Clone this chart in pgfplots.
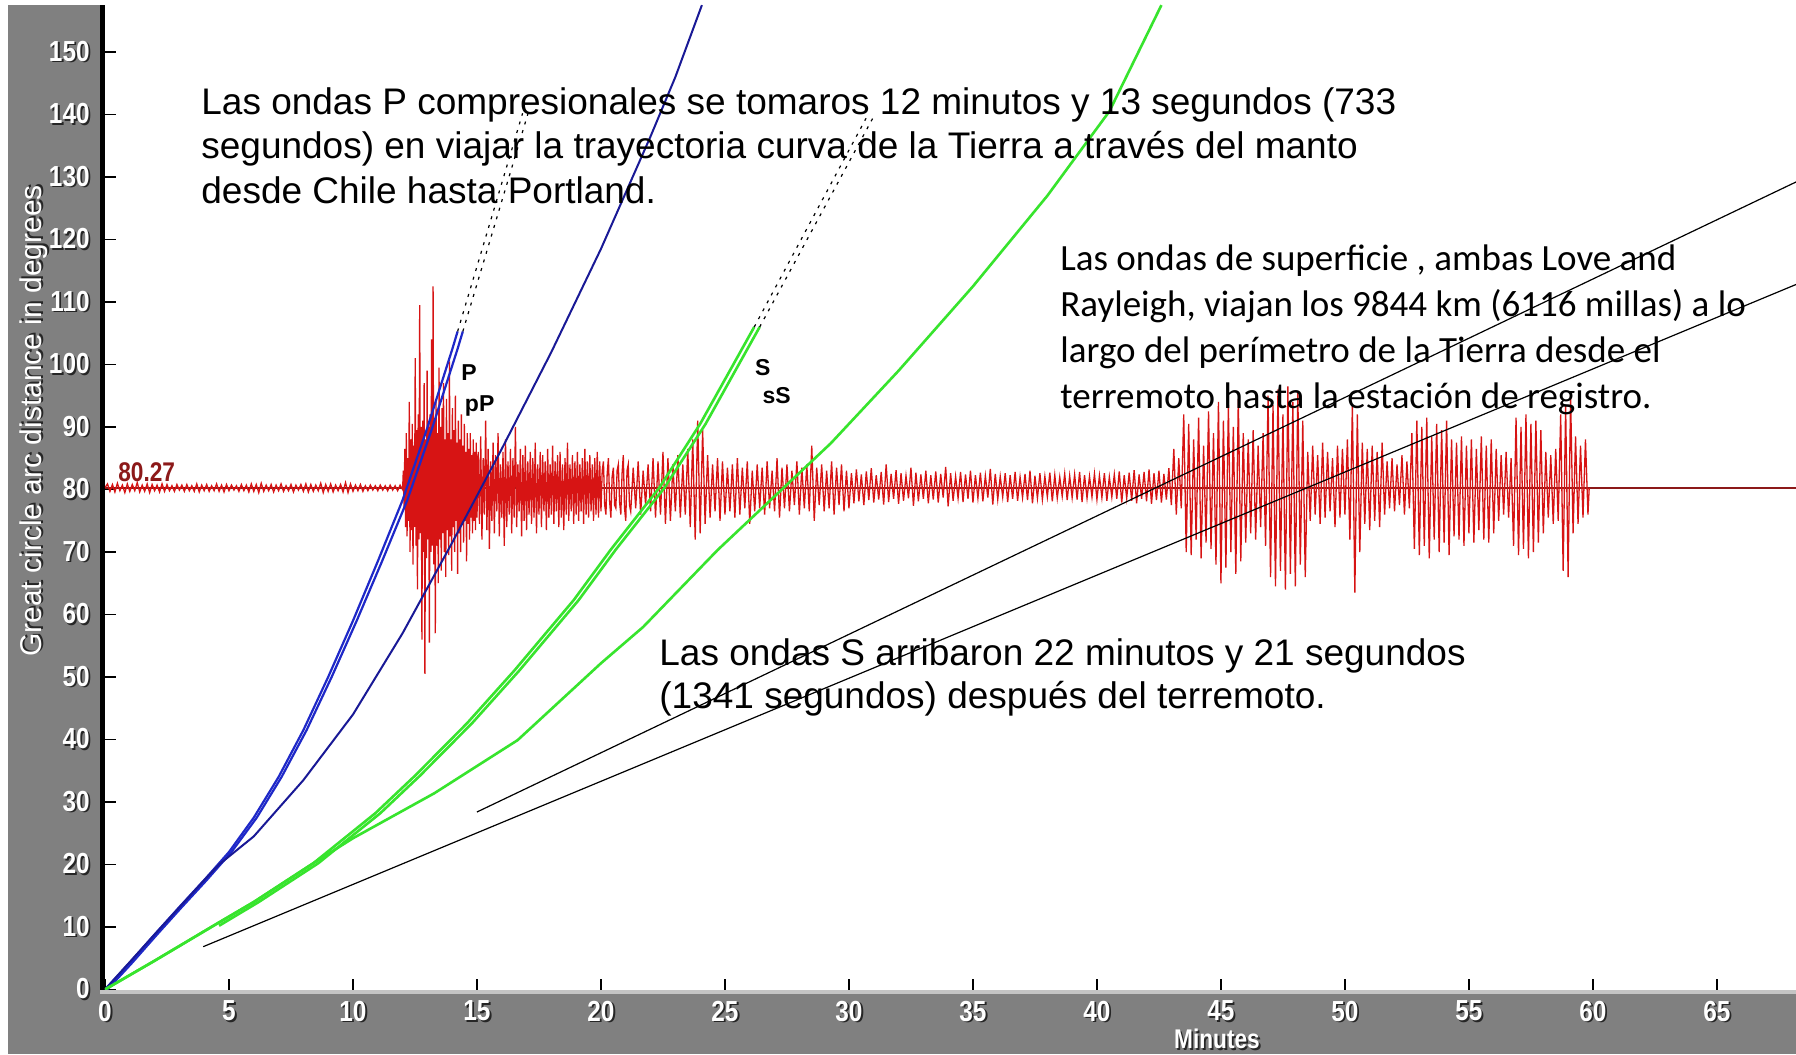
\documentclass[border=0pt]{standalone}
\usepackage{pgfplots}
\pgfplotsset{compat=1.18}
\usepackage{pgfplotstable}
\usepackage{fontspec}
\setmainfont{Liberation Sans}
\newfontfamily\calib{Carlito}
\newfontfamily\tickfont[FakeStretch=0.84]{Liberation Sans}
\usetikzlibrary{calc,backgrounds}
\definecolor{bandgray}{RGB}{128,128,128}
\definecolor{stripgray}{RGB}{196,196,196}
\definecolor{pblue}{RGB}{30,40,200}
\definecolor{ppblue}{RGB}{25,25,150}
\definecolor{sgreen}{RGB}{55,228,45}
\definecolor{trace}{RGB}{215,20,20}
\definecolor{darkred}{RGB}{140,25,25}
\newcommand{\sh}[1]{\makebox[0pt][l]{\hspace{0.9pt}\raisebox{-0.9pt}{\textcolor{black!85}{#1}}}\textcolor{white}{#1}}

\pgfplotstableread{
x y
0.0 80.3
0.1 80.9
0.2 79.7
0.3 80.8
0.4 79.6
0.5 81.0
0.6 79.8
0.7 80.7
0.8 79.5
0.9 80.9
1.0 79.7
1.1 80.8
1.2 79.8
1.3 81.1
1.4 79.6
1.5 80.7
1.6 79.7
1.7 80.9
1.8 79.5
1.9 80.8
2.0 79.8
2.1 80.7
2.2 79.6
2.3 80.9
2.4 79.7
2.5 80.8
2.6 79.8
2.7 80.6
2.8 79.7
2.9 80.8
3.0 79.9
3.1 80.7
3.2 79.7
3.3 80.8
3.4 79.8
3.5 80.6
3.6 79.7
3.7 80.9
3.8 79.6
3.9 80.7
4.0 79.8
4.1 80.8
4.2 79.7
4.3 80.6
4.4 79.8
4.5 80.9
4.6 79.7
4.7 80.7
4.8 79.6
4.9 80.8
5.0 79.8
5.1 80.7
5.2 79.9
5.3 80.6
5.4 79.7
5.5 80.8
5.6 79.8
5.7 80.7
5.8 79.6
5.9 80.9
6.0 79.7
6.1 80.8
6.2 79.5
6.3 81.0
6.4 79.7
6.5 80.7
6.6 79.8
6.7 80.8
6.8 79.6
6.9 80.7
7.0 79.8
7.1 80.9
7.2 79.7
7.3 80.6
7.4 79.8
7.5 80.8
7.6 79.6
7.7 80.7
7.8 79.9
7.9 80.8
8.0 79.7
8.1 80.9
8.2 79.6
8.3 80.8
8.4 79.7
8.5 80.7
8.6 79.8
8.7 81.0
8.8 79.5
8.9 80.8
9.0 79.7
9.1 80.9
9.2 79.6
9.3 80.7
9.4 79.8
9.5 80.8
9.6 79.6
9.7 81.1
9.8 79.5
9.9 80.9
10.0 79.7
10.1 80.7
10.2 79.8
10.3 80.8
10.4 79.7
10.5 80.6
10.6 79.8
10.7 80.7
10.8 79.9
10.9 80.6
11.0 79.8
11.1 80.7
11.2 79.9
11.3 80.6
11.4 79.8
11.5 80.7
11.6 79.9
11.7 80.6
11.8 79.8
11.9 80.7
12.0 80.0
12.03 83.0
12.06 77.0
12.09 86.5
12.12 74.0
12.15 89.0
12.18 72.5
12.21 85.0
12.24 75.0
12.27 94.0
12.30 70.0
12.33 88.0
12.36 73.5
12.39 90.5
12.42 68.0
12.45 87.0
12.48 74.0
12.51 101.0
12.54 71.0
12.57 89.5
12.60 64.0
12.63 92.0
12.66 72.0
12.69 109.5
12.72 73.0
12.75 90.0
12.78 56.0
12.81 91.0
12.84 70.0
12.87 97.0
12.90 50.5
12.93 88.0
12.96 69.0
12.99 99.0
13.02 72.0
13.05 90.0
13.08 55.5
13.11 92.0
13.14 70.0
13.17 104.0
13.20 71.0
13.23 112.5
13.26 68.0
13.29 91.0
13.32 57.0
13.35 94.0
13.38 71.0
13.41 89.0
13.44 65.0
13.47 99.5
13.50 72.0
13.53 90.0
13.56 67.0
13.59 93.0
13.62 73.0
13.65 97.0
13.68 70.0
13.71 88.0
13.74 66.0
13.77 94.5
13.80 73.5
13.83 89.0
13.86 69.5
13.89 100.5
13.92 72.5
13.95 88.0
13.98 67.0
14.01 93.0
14.04 74.0
14.07 89.5
14.10 70.0
14.13 95.0
14.16 75.0
14.19 87.5
14.22 66.5
14.25 91.0
14.28 73.0
14.31 88.0
14.34 70.0
14.37 92.0
14.40 74.5
14.43 87.0
14.46 71.5
14.49 90.5
14.52 75.0
14.55 86.0
14.58 68.5
14.61 89.0
14.64 74.5
14.67 86.5
14.70 72.0
14.73 89.0
14.76 75.5
14.79 85.5
14.82 73.0
14.85 88.0
14.88 75.0
14.91 86.0
14.94 73.5
14.97 87.5
15.00 75.5
15.05 86.0
15.10 74.5
15.15 88.5
15.20 72.0
15.25 85.0
15.30 76.0
15.35 91.0
15.40 73.5
15.45 86.5
15.50 70.5
15.55 84.5
15.60 75.0
15.65 87.5
15.70 73.0
15.75 85.5
15.80 76.5
15.85 89.0
15.90 72.5
15.95 84.0
16.00 75.5
16.05 86.0
16.10 71.0
16.15 88.0
16.20 74.0
16.25 84.5
16.30 76.0
16.35 86.5
16.40 73.0
16.45 85.0
16.50 75.5
16.55 90.0
16.60 74.0
16.65 84.0
16.70 76.5
16.75 86.5
16.80 72.5
16.85 85.5
16.90 75.0
16.95 87.0
17.00 73.5
17.05 84.5
17.10 76.0
17.15 86.0
17.20 74.5
17.25 85.0
17.30 75.5
17.35 87.5
17.40 73.0
17.45 84.0
17.50 76.0
17.55 86.0
17.60 74.0
17.65 85.5
17.70 76.5
17.75 84.5
17.80 73.5
17.85 86.5
17.90 75.5
17.95 84.0
18.00 76.0
18.05 87.0
18.10 74.5
18.15 84.5
18.20 76.5
18.25 85.5
18.30 74.0
18.35 86.0
18.40 75.5
18.45 84.0
18.50 73.5
18.55 85.0
18.60 76.0
18.65 87.5
18.70 75.0
18.75 84.0
18.80 76.5
18.85 85.5
18.90 74.5
18.95 84.5
19.00 76.0
19.05 86.0
19.10 75.0
19.15 84.0
19.20 76.5
19.25 85.0
19.30 74.5
19.35 86.5
19.40 76.0
19.45 84.5
19.50 75.5
19.55 85.5
19.60 76.5
19.65 84.0
19.70 75.0
19.75 85.0
19.80 76.0
19.85 86.0
19.90 75.5
19.95 84.5
20.00 76.5
20.05 83.0
20.1 84.5
20.15 77.5
20.2 76.0
20.25 82.5
20.3 85.0
20.35 78.0
20.4 75.5
20.45 82.0
20.5 83.5
20.55 77.5
20.6 77.0
20.65 83.0
20.7 84.0
20.75 78.0
20.8 76.0
20.85 82.5
20.9 85.5
20.95 77.0
21.0 75.0
21.05 83.0
21.1 84.0
21.15 77.5
21.2 76.5
21.3 83.5
21.4 77.0
21.5 84.5
21.6 76.0
21.7 83.0
21.8 77.5
21.9 84.0
22.0 76.5
22.1 85.0
22.2 75.5
22.3 84.5
22.4 76.0
22.5 86.0
22.6 74.5
22.7 85.0
22.8 75.0
22.9 84.0
23.0 76.5
23.1 85.5
23.2 75.5
23.3 84.0
23.4 76.0
23.5 86.5
23.6 74.0
23.7 88.0
23.8 72.0
23.9 91.0
24.0 73.0
24.1 89.5
24.2 74.5
24.3 85.5
24.4 75.5
24.5 84.0
24.6 76.5
24.7 85.0
24.8 75.0
24.9 84.5
25.0 76.0
25.1 83.5
25.2 76.5
25.3 84.0
25.4 75.5
25.5 85.0
25.6 76.0
25.7 83.5
25.8 77.0
25.9 84.5
26.0 74.5
26.1 83.0
26.2 76.5
26.3 84.0
26.4 77.0
26.5 83.5
26.6 76.0
26.7 84.5
26.8 77.0
26.9 83.0
27.0 76.5
27.1 85.0
27.2 75.5
27.3 83.5
27.4 77.0
27.5 84.0
27.6 76.5
27.7 83.0
27.8 77.5
27.9 84.5
28.0 76.0
28.1 83.5
28.2 77.0
28.3 84.0
28.4 76.5
28.5 87.0
28.6 75.0
28.7 83.5
28.8 77.5
28.9 84.0
29.0 76.5
29.1 83.0
29.2 77.0
29.3 84.5
29.4 76.0
29.5 83.5
29.6 77.5
29.7 84.0
29.8 76.5
29.9 83.0
30.0 77.0
30.1 82.6
30.2 77.8
30.3 83.2
30.4 78.1
30.5 82.4
30.6 77.5
30.7 82.9
30.8 78.3
30.9 83.4
31.0 77.9
31.1 82.3
31.2 78.4
31.3 82.8
31.4 77.6
31.5 84.0
31.6 78.0
31.7 82.5
31.8 78.5
31.9 83.1
32.0 77.7
32.1 82.6
32.2 78.2
32.3 82.2
32.4 78.6
32.5 83.5
32.6 77.4
32.7 82.7
32.8 78.1
32.9 82.4
33.0 78.5
33.1 83.0
33.2 77.8
33.3 82.3
33.4 78.4
33.5 82.9
33.6 77.9
33.7 82.5
33.8 78.7
33.9 83.6
34.0 77.3
34.1 82.6
34.2 78.2
34.3 82.1
34.4 78.6
34.5 82.8
34.6 78.0
34.7 82.4
34.8 78.5
34.9 83.0
35.0 77.9
35.1 82.3
35.2 78.6
35.3 82.7
35.4 78.1
35.5 82.2
35.6 78.7
35.7 83.3
35.8 77.6
35.9 82.5
36.0 78.4
36.1 82.1
36.2 78.8
36.3 82.6
36.4 78.0
36.5 82.3
36.6 78.5
36.7 82.8
36.8 78.2
36.9 82.0
37.0 78.7
37.1 82.5
37.2 78.3
37.3 83.0
37.4 77.8
37.5 82.2
37.6 78.6
37.7 82.6
37.8 78.4
37.9 82.1
38.0 78.8
38.1 82.7
38.2 78.1
38.3 82.3
38.4 78.6
38.5 82.0
38.6 78.9
38.7 82.5
38.8 78.3
38.9 82.2
39.0 78.7
39.1 82.4
39.2 78.4
39.3 82.8
39.4 78.0
39.5 82.3
39.6 78.6
39.7 82.1
39.8 78.8
39.9 82.5
40.0 78.4
40.1 82.2
40.2 78.7
40.3 82.6
40.4 78.2
40.5 82.0
40.6 78.8
40.7 82.4
40.8 78.5
40.9 82.9
41.0 77.9
41.1 82.3
41.2 78.6
41.3 82.7
41.4 78.2
41.5 83.1
41.6 77.8
41.7 82.4
41.8 78.5
41.9 82.8
42.0 78.1
42.1 83.2
42.2 77.7
42.3 82.6
42.4 78.3
42.5 83.0
42.6 77.9
42.7 82.5
42.8 78.4
42.9 83.4
43.0 77.5
43.1 86.5
43.2 76.0
43.3 85.0
43.4 77.0
43.5 92.0
43.6 70.0
43.7 90.5
43.8 69.5
43.9 88.0
44.0 72.0
44.1 91.5
44.2 69.0
44.3 87.0
44.4 71.5
44.5 92.5
44.6 70.5
44.7 89.0
44.8 68.0
44.9 94.0
45.0 65.0
45.1 91.0
45.2 67.5
45.3 93.5
45.4 70.0
45.5 90.0
45.6 66.5
45.7 94.5
45.8 68.5
45.9 89.0
46.0 71.5
46.1 88.0
46.2 73.0
46.3 89.5
46.4 72.0
46.5 87.0
46.6 74.0
46.7 89.0
46.8 71.0
46.9 95.0
47.0 66.0
47.1 93.5
47.2 64.5
47.3 96.0
47.4 67.0
47.5 92.0
47.6 64.0
47.7 96.5
47.8 66.5
47.9 94.0
48.0 64.5
48.1 95.5
48.2 68.0
48.3 91.0
48.4 66.0
48.5 86.0
48.6 75.0
48.7 87.0
48.8 76.0
48.9 85.5
49.0 74.5
49.1 87.5
49.2 75.5
49.3 86.0
49.4 76.5
49.5 85.0
49.6 74.0
49.7 87.0
49.8 75.5
49.9 86.5
50.0 76.0
50.1 88.0
50.2 72.0
50.3 93.5
50.4 63.5
50.5 92.0
50.6 70.0
50.7 87.5
50.8 74.5
50.9 86.5
51.0 73.5
51.1 87.0
51.2 75.0
51.3 86.0
51.4 74.0
51.5 87.5
51.6 76.0
51.7 84.5
51.8 77.0
51.9 85.0
52.0 76.5
52.1 84.0
52.2 77.5
52.3 85.5
52.4 76.0
52.5 84.5
52.6 77.0
52.7 89.0
52.8 70.5
52.9 91.0
53.0 69.5
53.1 90.0
53.2 71.0
53.3 91.5
53.4 69.0
53.5 88.5
53.6 72.0
53.7 90.5
53.8 70.0
53.9 89.5
54.0 71.5
54.1 91.0
54.2 69.5
54.3 88.0
54.4 72.5
54.5 87.5
54.6 72.0
54.7 88.5
54.8 71.0
54.9 87.0
55.0 73.0
55.1 88.0
55.2 71.5
55.3 86.5
55.4 73.5
55.5 88.5
55.6 72.0
55.7 87.0
55.8 71.5
55.9 88.0
56.0 73.0
56.1 86.5
56.2 75.0
56.3 85.5
56.4 76.0
56.5 86.0
56.6 75.5
56.7 85.0
56.8 71.0
56.9 91.5
57.0 69.5
57.1 90.0
57.2 70.5
57.3 92.0
57.4 69.0
57.5 90.5
57.6 70.0
57.7 91.0
57.8 71.5
57.9 89.5
58.0 73.0
58.1 86.0
58.2 75.5
58.3 85.5
58.4 74.5
58.5 86.5
58.6 75.0
58.7 92.0
58.8 67.0
58.9 93.5
59.0 66.0
59.1 95.0
59.2 73.0
59.3 88.5
59.4 74.5
59.5 87.0
59.6 75.5
59.7 88.0
59.8 76.0
59.85 80.27
}\seis

\begin{document}
\begin{tikzpicture}
\begin{axis}[
  at={(0,0)}, anchor=south west,
  scale only axis, width=845.5pt, height=492.25pt,
  xmin=0, xmax=68.19, ymin=0, ymax=157.52,
  clip mode=individual,
  axis line style={draw=none},
  tick pos=left, tick align=inside, major tick length=5.25pt,
  tick style={black, line width=0.75pt},
  xtick={0,5,...,65},
  xticklabels={\sh{0},\sh{5},\sh{10},\sh{15},\sh{20},\sh{25},\sh{30},\sh{35},\sh{40},\sh{45},\sh{50},\sh{55},\sh{60},\sh{65}},
  ytick={0,10,...,150},
  yticklabels={\sh{0},\sh{10},\sh{20},\sh{30},\sh{40},\sh{50},\sh{60},\sh{70},\sh{80},\sh{90},\sh{100},\sh{110},\sh{120},\sh{130},\sh{140},\sh{150}},
  ticklabel style={font=\tickfont\bfseries\fontsize{14.5}{14.5}\selectfont},
  xticklabel style={anchor=north, inner sep=0pt, yshift=-5.5pt},
  yticklabel style={anchor=east, inner sep=0pt, xshift=-7.5pt},
  xlabel={\sh{Minutes}},
  ylabel={\sh{Great circle arc distance in degrees}},
  every axis x label/.style={at={(rel axis cs:0.6576,-0.0401)}, anchor=north, inner sep=0pt, font=\tickfont\bfseries\fontsize{13.5}{14}\selectfont},
  every axis y label/.style={at={(rel axis cs:-0.0414,0.5775)}, rotate=90, anchor=center, inner sep=0pt, font=\fontsize{15}{16}\selectfont},
]
\path (rel axis cs:0,0) coordinate (SW);
\path (rel axis cs:1,1) coordinate (NE);

\addplot[darkred, line width=0.7pt] coordinates {(0,80.27) (68.19,80.27)};
\addplot[trace, line width=0.65pt] table[x=x,y=y] {\seis};

% P and pP
\addplot[pblue, line width=1.1pt] coordinates {(0,0) (1,4.3) (2,8.8) (3,13.2) (4,17.5) (5,22.0) (6,27.5) (7,34.0) (8,41.5) (9,50.0) (10,59.0) (11,68.5) (12,78.3) (13,89.9) (14,102.4) (14.22,105.3)};
\addplot[pblue, line width=1.1pt] coordinates {(0.1,0) (1.1,4.3) (2.1,8.8) (3.1,13.2) (4.1,17.5) (5.1,22.0) (6.12,27.5) (7.12,34.0) (8.13,41.5) (9.14,50.0) (10.15,59.0) (11.17,68.5) (12.19,78.3) (13.2,89.9) (14.21,102.4) (14.43,105.3)};
% PP
\addplot[ppblue, line width=1pt] coordinates {(0,0) (2,8.8) (4,17.5) (4.6,20.0) (6,24.5) (8,33.5) (10,44.0) (12,57.0) (14,71.5) (16,86.5) (18,102.0) (20,118.5) (21,127.5) (22,136.5) (23,146.0) (24.07,157.5)};
% S and sS
\addplot[sgreen, line width=1.3pt] coordinates {(0,0) (2,4.6) (4.5,10.5) (6,14.0) (8.4,20.2) (10.9,28.2) (12.5,34.2) (14.6,42.6) (16.5,51.0) (18.9,62.3) (20.4,70.4) (22.35,80.27) (24,90.5) (26.18,106.0)};
\addplot[sgreen, line width=1.3pt] coordinates {(4.6,10.2) (6.2,14.0) (8.6,20.2) (11.1,28.2) (12.7,34.2) (14.8,42.6) (16.7,51.0) (19.1,62.3) (20.6,70.4) (22.56,80.27) (24.22,90.5) (26.4,106.0)};
% SS
\addplot[sgreen, line width=1.3pt] coordinates {(0,0) (2,4.6) (4.5,10.5) (6,14.0) (8.4,20.2) (10,24.2) (13.28,31.4) (16.64,39.9) (20,52.2) (21.7,58.0) (24.7,70.3) (29.27,87.4) (32,99) (35,112.5) (38,127) (40.5,140.5) (42.6,157.5)};
% surface waves
\addplot[black, line width=0.6pt] coordinates {(3.96,6.85) (68.19,112.8)};
\addplot[black, line width=0.6pt] coordinates {(15.0,28.4) (68.19,129.2)};
% dotted continuations
\addplot[black, line width=0.6pt, dash pattern=on 1.5pt off 3pt] coordinates {(14.22,105.3) (16.84,140.2)};
\addplot[black, line width=0.6pt, dash pattern=on 1.5pt off 3pt] coordinates {(14.43,105.3) (17.06,140.2)};
\addplot[black, line width=0.6pt, dash pattern=on 1.5pt off 3pt] coordinates {(26.18,106.0) (30.69,139.4)};
\addplot[black, line width=0.6pt, dash pattern=on 1.5pt off 3pt] coordinates {(26.4,106.0) (30.96,139.4)};

% phase labels
\node[anchor=base west, inner sep=0pt, font=\bfseries\fontsize{11.5}{12}\selectfont] at (axis cs:14.35,97.5) {P};
\node[anchor=base west, inner sep=0pt, font=\bfseries\fontsize{11.5}{12}\selectfont] at (axis cs:14.5,92.4) {pP};
\node[anchor=base west, inner sep=0pt, font=\bfseries\fontsize{11.5}{12}\selectfont] at (axis cs:26.2,98.2) {S};
\node[anchor=base west, inner sep=0pt, font=\bfseries\fontsize{11.5}{12}\selectfont] at (axis cs:26.5,93.7) {sS};
\node[anchor=base west, inner sep=0pt, text=darkred, font=\tickfont\bfseries\fontsize{13.5}{13.5}\selectfont] at (axis cs:0.52,81.2) {80.27};

% annotations
\node[anchor=base west, inner sep=0pt, font=\fontsize{18.5}{22}\selectfont] at (axis cs:3.87,140.0) {Las ondas P compresionales se tomaros 12 minutos y 13 segundos (733};
\node[anchor=base west, inner sep=0pt, font=\fontsize{18.5}{22}\selectfont] at (axis cs:3.87,132.9) {segundos) en viajar la trayectoria curva de la Tierra a través del manto};
\node[anchor=base west, inner sep=0pt, font=\fontsize{18.5}{22}\selectfont] at (axis cs:3.87,125.8) {desde Chile hasta Portland.};

\node[anchor=base west, inner sep=0pt, font=\calib\fontsize{18.5}{22}\selectfont] at (axis cs:38.51,115.0) {Las ondas de superficie , ambas Love and};
\node[anchor=base west, inner sep=0pt, font=\calib\fontsize{18.5}{22}\selectfont] at (axis cs:38.51,107.65) {Rayleigh, viajan los 9844 km (6116 millas) a lo};
\node[anchor=base west, inner sep=0pt, font=\calib\fontsize{18.5}{22}\selectfont] at (axis cs:38.51,100.3) {largo del perímetro de la Tierra desde el};
\node[anchor=base west, inner sep=0pt, font=\calib\fontsize{18.5}{22}\selectfont] at (axis cs:38.51,93.0) {terremoto hasta la estación de registro.};

\node[anchor=base west, inner sep=0pt, font=\fontsize{18.5}{22}\selectfont] at (axis cs:22.34,51.9) {Las ondas S arribaron 22 minutos y 21 segundos};
\node[anchor=base west, inner sep=0pt, font=\fontsize{18.5}{22}\selectfont] at (axis cs:22.34,44.9) {(1341 segundos) después del terremoto.};
\end{axis}

\begin{pgfonlayer}{background}
\fill[white] ($(SW)+(-52.5pt,-32.25pt)$) rectangle ($(NE)+(0,2.5pt)$);
\fill[bandgray] ($(SW)+(-48.5pt,-32.25pt)$) rectangle ($(SW|-NE)+(-2.5pt,0)$);
\fill[bandgray] ($(SW)+(-48pt,-32.25pt)$) rectangle ($(NE|-SW)+(0,-2pt)$);
\fill[stripgray] ($(SW)+(-2.5pt,-2pt)$) rectangle (NE|-SW);
\fill[black] ($(SW)+(-2.5pt,0)$) rectangle (SW|-NE);
\end{pgfonlayer}
\pgfresetboundingbox
\useasboundingbox ($(SW)+(-52.5pt,-32.25pt)$) rectangle ($(NE)+(0,2.5pt)$);
\end{tikzpicture}
\end{document}
